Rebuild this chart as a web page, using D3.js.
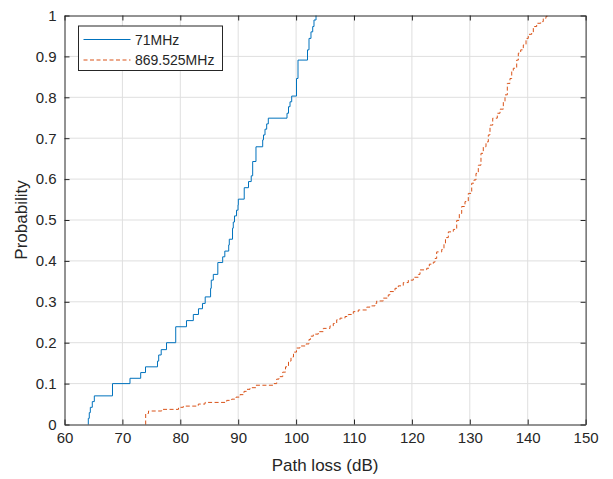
<!DOCTYPE html>
<html>
<head>
<meta charset="utf-8">
<script src="https://cdn.jsdelivr.net/npm/d3@7"></script>
<style>
  html, body { margin: 0; padding: 0; background: #ffffff; }
  svg { display: block; font-family: "Liberation Sans", Arial, Helvetica, sans-serif; }
</style>
</head>
<body>
<svg id="chart" width="613" height="479"></svg>
<script>
// Empirical CDF of measured path loss, drawn as stairs.
// 71 MHz: path loss (dB) at each step and the probability reached after it.
const loss71 = [64.11, 64.11, 64.28, 64.46, 64.80, 65.15, 68.29, 71.31, 73.16, 73.99,
  76.06, 76.27, 76.70, 77.62, 79.21, 81.07, 82.25, 83.14, 83.83, 84.30,
  85.23, 85.35, 85.70, 86.48, 87.32, 87.69, 88.36, 88.46, 89.02, 89.15,
  89.36, 89.71, 89.97, 90.02, 91.04, 91.78, 92.25, 92.50, 93.07, 94.23,
  94.37, 94.63, 94.92, 95.20, 98.43, 98.69, 98.95, 99.24, 100.07, 100.33,
  101.97, 102.23, 102.57, 102.87, 103.09, 103.44];
const prob71 = [0, 0.015, 0.029, 0.042, 0.056, 0.070, 0.100, 0.113, 0.127, 0.141,
  0.155, 0.170, 0.183, 0.200, 0.239, 0.254, 0.269, 0.283, 0.296, 0.312,
  0.333, 0.353, 0.367, 0.396, 0.410, 0.424, 0.439, 0.453, 0.480, 0.495,
  0.510, 0.524, 0.537, 0.551, 0.579, 0.594, 0.608, 0.643, 0.679, 0.696,
  0.708, 0.722, 0.735, 0.749, 0.761, 0.777, 0.789, 0.803, 0.846, 0.891,
  0.916, 0.944, 0.960, 0.973, 0.989, 1.000];

// 869.525 MHz
const loss869 = [74.02, 74.02, 74.51, 76.79, 79.69, 80.52, 83.11, 84.27, 88.01, 88.88,
  89.62, 90.31, 91.00, 91.52, 92.04, 93.07, 96.18, 96.65, 97.05, 97.69,
  98.17, 98.69, 99.12, 99.55, 100.07, 100.67, 101.71, 102.23, 102.49, 102.97,
  103.83, 104.70, 105.85, 106.42, 107.01, 107.58, 108.45, 109.02, 109.88, 110.74,
  112.19, 112.76, 113.63, 113.92, 115.06, 115.92, 116.22, 117.08, 117.65, 118.51,
  119.38, 120.24, 121.11, 121.40, 122.56, 123.01, 123.70, 123.99, 124.28, 125.15,
  125.54, 125.80, 126.29, 127.15, 127.74, 128.19, 128.60, 129.17, 129.74, 130.33,
  130.73, 131.07, 131.47, 131.93, 132.33, 132.80, 133.20, 133.49, 133.96, 134.75,
  135.22, 135.79, 136.08, 136.48, 136.94, 137.24, 137.51, 138.10, 138.38, 138.79,
  139.24, 139.71, 140.10, 140.69, 140.97, 141.55, 142.25, 142.69, 143.16, 143.56];
const prob869 = [0, 0.027, 0.033, 0.037, 0.042, 0.045, 0.050, 0.054, 0.059, 0.062,
  0.067, 0.073, 0.081, 0.086, 0.090, 0.096, 0.100, 0.111, 0.117, 0.128,
  0.141, 0.155, 0.165, 0.177, 0.187, 0.192, 0.197, 0.208, 0.216, 0.221,
  0.227, 0.235, 0.241, 0.247, 0.256, 0.260, 0.264, 0.269, 0.276, 0.280,
  0.287, 0.290, 0.296, 0.302, 0.309, 0.317, 0.325, 0.333, 0.339, 0.347,
  0.353, 0.360, 0.367, 0.378, 0.382, 0.392, 0.397, 0.406, 0.422, 0.428,
  0.443, 0.457, 0.471, 0.477, 0.499, 0.516, 0.533, 0.545, 0.565, 0.590,
  0.598, 0.614, 0.634, 0.663, 0.679, 0.691, 0.708, 0.732, 0.749, 0.761,
  0.771, 0.789, 0.806, 0.834, 0.846, 0.863, 0.871, 0.891, 0.908, 0.916,
  0.928, 0.944, 0.954, 0.958, 0.973, 0.981, 0.985, 0.993, 0.998, 1.000];

const seriesNames = ["71MHz", "869.525MHz"];
const seriesColors = ["#0072BD", "#D95319"];
const xTicks = [60, 70, 80, 90, 100, 110, 120, 130, 140, 150];
const yTicks = [0, 0.1, 0.2, 0.3, 0.4, 0.5, 0.6, 0.7, 0.8, 0.9, 1];
const xLabel = "Path loss (dB)";
const yLabel = "Probability";

const svg = d3.select("#chart");
const margin = { left: 64.5, right: 613 - 585.6, top: 15.5, bottom: 479 - 424.5 };
const W = 613 - margin.left - margin.right;
const H = 479 - margin.top - margin.bottom;
const axisColor = "#262626";

const x = d3.scaleLinear().domain([60, 150]).range([0, W]);
const y = d3.scaleLinear().domain([0, 1]).range([H, 0]);

const g = svg.append("g").attr("transform", `translate(${margin.left},${margin.top})`);

// grid
g.append("g").selectAll("line").data(xTicks.slice(1, -1)).join("line")
  .attr("x1", d => x(d)).attr("x2", d => x(d)).attr("y1", 0).attr("y2", H)
  .attr("stroke", "#dfdfdf").attr("stroke-width", 1);
g.append("g").selectAll("line").data(yTicks.slice(1, -1)).join("line")
  .attr("y1", d => y(d)).attr("y2", d => y(d)).attr("x1", 0).attr("x2", W)
  .attr("stroke", "#dfdfdf").attr("stroke-width", 1);

// stairs
const line = d3.line().curve(d3.curveStepAfter).x(d => x(d[0])).y(d => y(d[1]));
const data71 = loss71.map((v, i) => [v, prob71[i]]);
const data869 = loss869.map((v, i) => [v, prob869[i]]);

g.append("path").datum(data869).attr("d", line)
  .attr("fill", "none").attr("stroke", seriesColors[1]).attr("stroke-width", 1)
  .attr("stroke-dasharray", "4,2.5");
g.append("path").datum(data71).attr("d", line)
  .attr("fill", "none").attr("stroke", seriesColors[0]).attr("stroke-width", 1);

// axes (ticks inward, mirrored on top and right)
const tickLen = 5;
const bottomAxis = d3.axisBottom(x).tickValues(xTicks).tickSizeInner(-tickLen).tickSizeOuter(0).tickPadding(8);
const leftAxis = d3.axisLeft(y).tickValues(yTicks).tickSizeInner(-tickLen).tickSizeOuter(0).tickPadding(8)
  .tickFormat(d3.format("~g"));
const topAxis = d3.axisTop(x).tickValues(xTicks).tickSizeInner(-tickLen).tickSizeOuter(0).tickFormat("");
const rightAxis = d3.axisRight(y).tickValues(yTicks).tickSizeInner(-tickLen).tickSizeOuter(0).tickFormat("");

function styleAxis(sel) {
  sel.selectAll("path").attr("stroke", axisColor);
  sel.selectAll("line").attr("stroke", axisColor);
  sel.selectAll("text").attr("fill", axisColor).style("font-size", "15px");
}
g.append("g").attr("transform", `translate(0,${H})`).call(bottomAxis).call(styleAxis);
g.append("g").call(leftAxis).call(styleAxis);
g.append("g").call(topAxis).call(styleAxis);
g.append("g").attr("transform", `translate(${W},0)`).call(rightAxis).call(styleAxis);

// axis titles
svg.append("text").attr("x", margin.left + W / 2).attr("y", 471)
  .attr("text-anchor", "middle").attr("fill", axisColor).style("font-size", "17px")
  .text(xLabel);
svg.append("text").attr("transform", `translate(27,${margin.top + H / 2}) rotate(-90)`)
  .attr("text-anchor", "middle").attr("fill", axisColor).style("font-size", "17px")
  .text(yLabel);

// legend
const lg = svg.append("g").attr("transform", "translate(78.5,26)");
lg.append("rect").attr("width", 144).attr("height", 44.5)
  .attr("fill", "#ffffff").attr("stroke", axisColor).attr("stroke-width", 1);
seriesNames.forEach((name, i) => {
  const yy = 13.5 + i * 20.5;
  lg.append("line").attr("x1", 5).attr("x2", 52).attr("y1", yy).attr("y2", yy)
    .attr("stroke", seriesColors[i]).attr("stroke-width", 1)
    .attr("stroke-dasharray", i === 1 ? "4,2.5" : null);
  lg.append("text").attr("x", 56.5).attr("y", yy + 5).attr("fill", axisColor)
    .style("font-size", "14px").text(name);
});
</script>
</body>
</html>
